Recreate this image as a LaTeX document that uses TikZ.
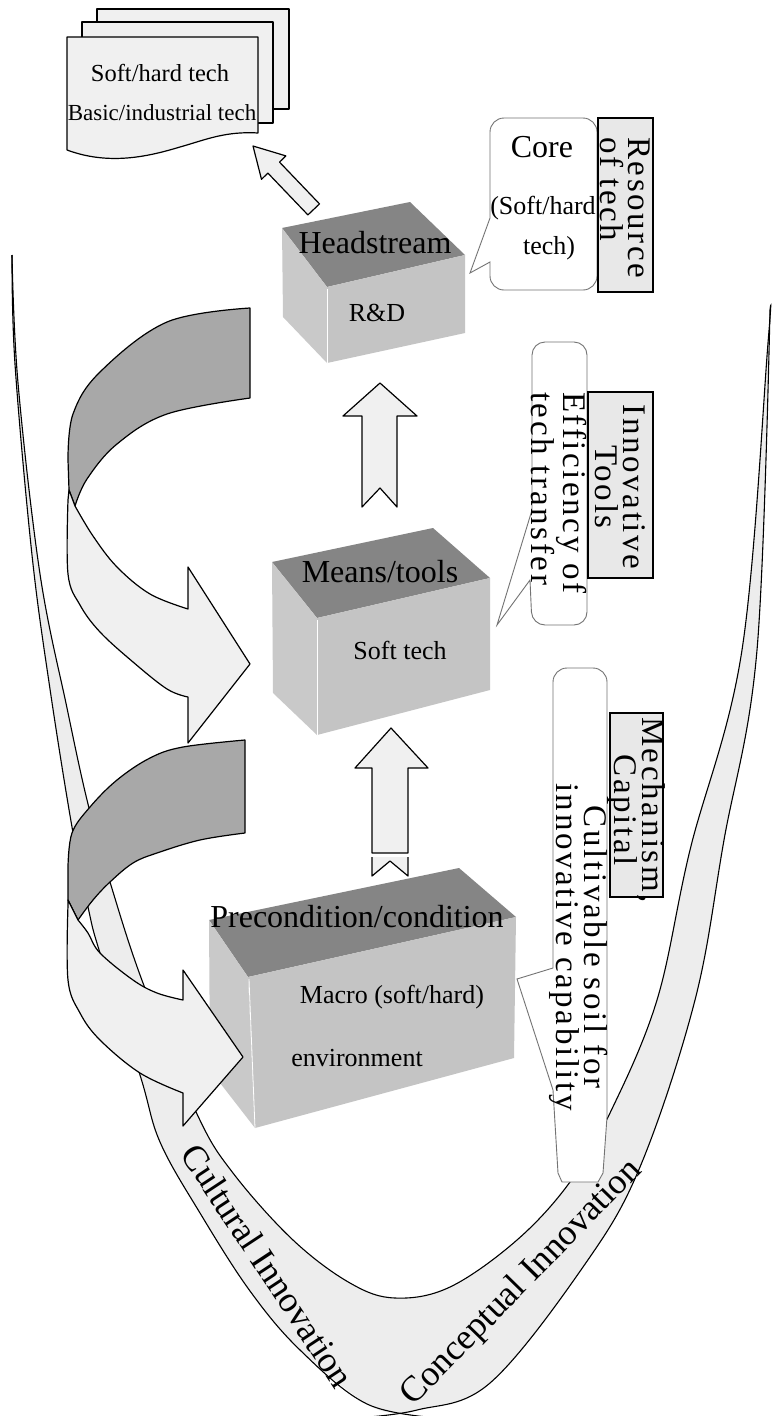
\documentclass[tikz,border=0pt]{standalone}
\usepackage{fontspec}
\setmainfont{Liberation Serif}
\newfontfamily\spc[LetterSpace=8]{Liberation Serif}
\definecolor{bandfill}{gray}{0.93}
\definecolor{darkarrow}{gray}{0.66}
\definecolor{lightarrow}{gray}{0.94}
\definecolor{topface}{gray}{0.52}
\definecolor{frontface}{gray}{0.77}
\definecolor{leftface}{gray}{0.79}
\definecolor{labelfill}{gray}{0.91}
\definecolor{docfill}{gray}{0.94}
\tikzset{
  outl/.style={draw=black, line width=1.2pt, line join=round},
  callout/.style={draw=black!55, line width=0.9pt, fill=white},
  labelbox/.style={draw=black, line width=1.3pt, fill=labelfill},
  title/.style={font=\fontsize{32}{34}\selectfont, inner sep=0pt},
  sub/.style={font=\fontsize{26}{28}\selectfont, inner sep=0pt},
  doctext/.style={font=\fontsize{23}{25}\selectfont, inner sep=0pt},
  vtext/.style={font=\spc\fontsize{33}{28}\selectfont, inner sep=0pt, rotate=-90},
  bandtext/.style={font=\fontsize{36}{38}\selectfont, inner sep=0pt},
}
\begin{document}
\begin{tikzpicture}[x=1pt,y=-1pt]
\useasboundingbox (0,0) rectangle (771,1416);
\fill[white] (0,0) rectangle (771,1416);

% ---------- U shaped band ----------
\fill[bandfill] plot[smooth, tension=0.6] coordinates {(12,255) (15,364) (32,555) (50,689) (72,827) (88,907) (100,953) (140,1075) (160,1142) (200,1213) (250,1291) (300,1350) (367,1404) (400,1413) (417,1410) (490,1383) (583,1267) (640,1167) (695,1000) (724,840) (757,650) (770,310)}
  -- plot[smooth, tension=0.6] coordinates {(770,310) (768,343) (742,650) (690,850) (657,1000) (610,1113) (570,1182) (517,1240) (450,1287) (395,1298) (350,1283) (293,1240) (233,1173) (197,1114) (143,983) (110,882) (88,804) (67,708) (40,574) (18,383) (12,255)} -- cycle;
\draw[line width=1.1pt] plot[smooth, tension=0.6] coordinates {(12,255) (15,364) (32,555) (50,689) (72,827) (88,907) (100,953) (140,1075) (160,1142) (200,1213) (250,1291) (300,1350) (367,1404) (440,1418)};
\draw[line width=1.1pt] plot[smooth, tension=0.6] coordinates {(355,1418) (417,1410) (490,1383) (583,1267) (640,1167) (695,1000) (724,840) (757,650) (770,310)};
\draw[line width=1.1pt] plot[smooth, tension=0.6] coordinates {(770,310) (768,343) (742,650) (690,850) (657,1000) (610,1113) (570,1182) (517,1240) (450,1287) (395,1298) (350,1283) (293,1240) (233,1173) (197,1114) (143,983) (110,882) (88,804) (67,708) (40,574) (18,383) (12,255)};

\node[bandtext, rotate=-56.6] (cult) at (268,1266) {Cultural Innovation};
\node[bandtext, rotate=45.7] (conc) at (522,1283) {Conceptual Innovation};

% ---------- big curved arrow 1 ----------
\filldraw[outl, fill=darkarrow] plot[smooth, tension=0.6] coordinates {(250,308) (167,322) (100,372) (73,414) (68,460)} -- (69,490) -- (75,506)
  -- plot[smooth, tension=0.6] coordinates {(75,506) (87,479) (117,444) (167,414) (250,398)} -- cycle;
\filldraw[outl, fill=lightarrow] (69,490) -- plot[smooth, tension=0.6] coordinates {(68,500) (68,574) (80,605) (100,632) (133,662) (167,689) (188,697)}
  -- (188,743) -- (250,664) -- (188,567) -- (188,609)
  -- plot[smooth, tension=0.6] coordinates {(188,609) (150,594) (117,567) (93,536) (75,506)} -- cycle;

% ---------- big curved arrow 2 (back part) ----------
\filldraw[outl, fill=darkarrow] plot[smooth, tension=0.6] coordinates {(245,740) (183,747) (150,758) (117,780) (90,807) (72,833) (68,867)} -- (68,900) -- (78,920)
  -- plot[smooth, tension=0.6] coordinates {(78,920) (93,900) (110,882) (133,863) (157,853) (200,840) (245,833)} -- cycle;

% ---------- boxes ----------
% Headstream
\fill[topface] (282,228) -- (410,202) -- (465,255) -- (327,287) -- cycle;
\fill[frontface] (327,287) -- (465,255) -- (465,333) -- (327,363) -- cycle;
\fill[leftface] (282,228) -- (327,287) -- (327,363) -- (283,317) -- cycle;
\draw[white, line width=0.8pt] (327,289) -- (327,363);
\node[title] (head) at (375,243) {Headstream};
\node[sub] (rd) at (377,313) {R\&D};

% Means/tools
\fill[topface] (272,562) -- (433,528) -- (490,578) -- (317,618) -- cycle;
\fill[frontface] (317,618) -- (490,578) -- (490,690) -- (317,735) -- cycle;
\fill[leftface] (272,562) -- (317,618) -- (317,735) -- (273,693) -- cycle;
\draw[white, line width=0.8pt] (317,620) -- (317,735);
\node[title] (means) at (380,572) {Means/tools};
\node[sub] (soft) at (400,650) {Soft tech};

% Precondition
\fill[topface] (209,920) -- (459,868) -- (516,917) -- (248,977) -- cycle;
\fill[frontface] (248,977) -- (516,917) -- (514,1058) -- (255,1128) -- cycle;
\fill[leftface] (209,920) -- (248,977) -- (255,1128) -- (210,1070) -- cycle;
\draw[white, line width=0.8pt] (249,979) -- (255,1128);
\node[title] (pre) at (357,917) {Precondition/condition};
\node[sub] (macro) at (392,997) {Macro (soft/hard)};
\node[sub] (env) at (357,1058) {environment};

% ---------- big curved arrow 2 (front part, over the box) ----------
\filldraw[outl, fill=lightarrow] (68,900) -- plot[smooth, tension=0.6] coordinates {(68,905) (68,980) (80,1013) (100,1040) (140,1073) (183,1093)}
  -- (183,1126) -- (243,1057) -- (183,970) -- (183,1000)
  -- plot[smooth, tension=0.6] coordinates {(183,1000) (157,993) (133,980) (100,953) (88,933) (78,920)} -- cycle;

% ---------- up arrows ----------
\filldraw[outl, fill=lightarrow] (380,383) -- (417,416) -- (397,416) -- (397,507) -- (380,488) -- (362,507) -- (362,416) -- (343,416) -- cycle;
\filldraw[outl, fill=lightarrow] (391,728) -- (428,768) -- (408,768) -- (408,853) -- (372,853) -- (372,768) -- (355,768) -- cycle;
\fill[lightarrow] (372,857) -- (408,857) -- (408,876) -- (390,861) -- (372,876) -- cycle;
\draw[line width=1.2pt, line join=round] (372,857) -- (372,876) -- (390,861) -- (408,876) -- (408,857);

% ---------- small diagonal arrow ----------
\filldraw[outl, fill=lightarrow] (253,146) -- (285.9,155.9) -- (279.5,162.1) -- (319.5,203.9) -- (307.9,214.9) -- (267.9,173.1) -- (261.5,179.3) -- cycle;

% ---------- document stack ----------
\filldraw[outl, fill=docfill] (97,9) rectangle (289,109);
\filldraw[outl, fill=docfill] (82,22) rectangle (273,123);
\filldraw[outl, fill=docfill] (67,37) -- (258,37) -- (258,133) .. controls (225,131) and (205,140) .. (180,147) .. controls (150,156) and (110,166) .. (67,150) -- cycle;
\node[doctext, font=\fontsize{24.5}{26}\selectfont] (doc1) at (160,73) {Soft/hard tech};
\node[doctext] (doc2) at (162,113) {Basic/industrial tech};

% ---------- callouts ----------
\filldraw[callout] (490,218) [rounded corners=14] -- (490,118) -- (597,118) -- (597,290) -- (490,290) [sharp corners] -- (490,262) -- (470,273) -- cycle;
\node[title] (core) at (542,147) {Core};
\node[sub] (core2) at (543,208) {(Soft/hard};
\node[sub] (core3) at (549,248) {tech)};

\filldraw[callout] (532,510) [rounded corners=13] -- (532,342) -- (587,342) -- (587,625) -- (532,625) [sharp corners] -- (530,580) -- (497,625) -- cycle;
\node[vtext, anchor=west, align=left] (eff) at (559,392) {Efficiency of\\tech transfer};

\filldraw[callout] (553,968) [rounded corners=14] -- (553,668) -- (607,668) [sharp corners] -- (607,1117) -- (603,1173) -- (598,1182) -- (562,1182) -- (558,1173) -- (553,1090) -- (517,979) -- cycle;
\node[vtext, align=center] (cult2) at (579,947) {Cultivable soil for\\innovative capability};

% ---------- label boxes ----------
\filldraw[labelbox] (598,118) rectangle (653,292);
\node[vtext, anchor=west, align=left] (res) at (625,137) {Resource\\of tech};
\filldraw[labelbox] (588,392) rectangle (653,578);
\node[vtext, align=center] (inn) at (620,487) {Innovative\\Tools};
\filldraw[labelbox] (610,713) rectangle (663,897);
\node[vtext, align=center] (mech) at (636,810) {Mechanism,\\Capital};
\end{tikzpicture}
\end{document}
